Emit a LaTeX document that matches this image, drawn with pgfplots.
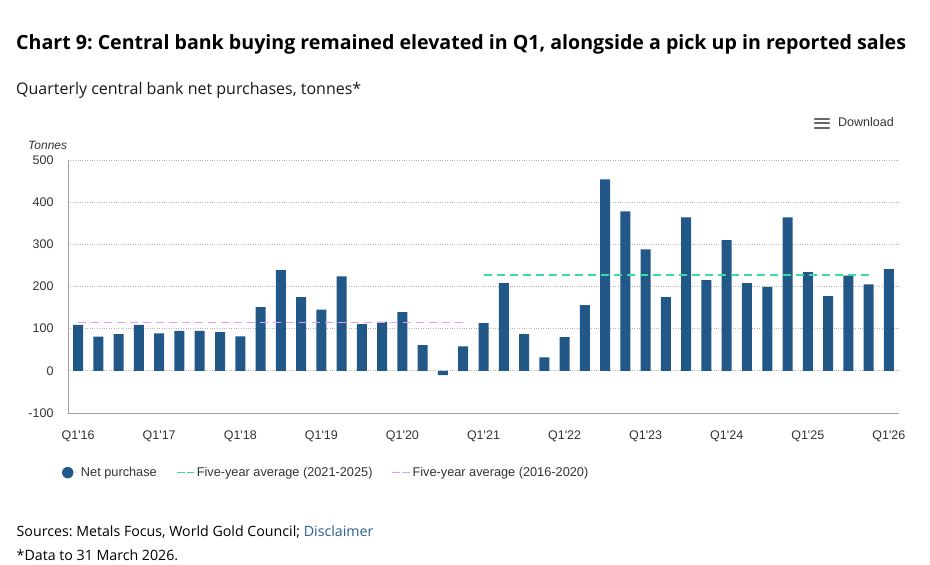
\documentclass[border=0pt]{standalone}
\usepackage{pgfplots}
\pgfplotsset{compat=1.18}
\usepackage{fontspec}
\setmainfont{Open Sans}
\newfontfamily\arial{Liberation Sans}
\definecolor{barblue}{HTML}{215888}
\definecolor{avggreen}{HTML}{3DDBA4}
\definecolor{avgpurple}{HTML}{E19BFA}
\definecolor{ticktext}{HTML}{333333}
\definecolor{axisgrey}{HTML}{A0A0A0}
\definecolor{gridgrey}{HTML}{B5B5B5}
\definecolor{linkblue}{HTML}{2B6193}
\begin{document}
\frenchspacing
\begin{tikzpicture}
\useasboundingbox (0pt,0pt) rectangle (930pt,565pt);
\fill[white] (0pt,0pt) rectangle (930pt,565pt);
% titles
\node[anchor=base west, inner sep=0pt, text=black] at (16pt,515.5pt)
  {\fontsize{19.6}{22}\selectfont\bfseries Chart 9: Central bank buying remained elevated in Q1, alongside a pick up in reported sales};
\node[anchor=base west, inner sep=0pt, text=black!90] at (16pt,470pt)
  {\fontsize{16}{19}\selectfont Quarterly central bank net purchases, tonnes*};
\node[anchor=base west, inner sep=0pt, text=ticktext] at (28pt,415pt)
  {\arial\itshape\fontsize{12}{13}\selectfont Tonnes};
% download button
\foreach \yy in {446,441.7,436.7}{
  \draw[line width=2.4pt, line cap=round, black!60] (815pt,\yy pt) -- (829pt,\yy pt);
}
\node[anchor=base west, inner sep=0pt, text=ticktext] at (838pt,438pt)
  {\arial\fontsize{12.5}{14}\selectfont Download};
% sources
\node[anchor=base west, inner sep=0pt, text=black] at (16.5pt,28.3pt)
  {\fontsize{14.2}{17}\selectfont Sources: Metals Focus, World Gold Council; \textcolor{linkblue}{Disclaimer}};
\node[anchor=base west, inner sep=0pt, text=black] at (16.5pt,4.5pt)
  {\fontsize{14.2}{17}\selectfont *Data to 31 March 2026.};
\begin{axis}[
  at={(68pt,152pt)}, anchor=south west,
  scale only axis, width=831pt, height=253pt,
  xmin=-0.5, xmax=40.5, ymin=-100, ymax=500,
  axis x line*=bottom, axis y line*=left,
  axis line style={axisgrey, line width=0.8pt},
  x axis line style={-}, y axis line style={-},
  xtick={0,4,...,40},
  xticklabels={Q1'16,Q1'17,Q1'18,Q1'19,Q1'20,Q1'21,Q1'22,Q1'23,Q1'24,Q1'25,Q1'26},
  ytick={-100,0,100,200,300,400,500},
  yticklabels={-100,0,100,200,300,400,500},
  tick style={draw=none},
  ymajorgrids, grid style={gridgrey, dotted, line width=0.8pt},
  ticklabel style={font=\arial\fontsize{12.5}{14}\selectfont, text=ticktext},
  yticklabel style={xshift=-11pt},
  xticklabel style={yshift=-14pt},
  legend columns=3,
  legend cell align=left,
  legend style={draw=none, fill=none, at={(-0.011,-0.2357)}, anchor=west,
    font=\arial\fontsize{12.75}{14}\selectfont, text=ticktext,
    /tikz/every even column/.append style={column sep=17pt}},
]
\addplot[ybar, bar width=10pt, fill=barblue, draw=none,
  legend image code/.code={\fill[barblue] (3pt,0pt) circle (5.7pt);\path (-2.7pt,0pt) -- (14.2pt,0pt);}]
coordinates {
(0,109) (1,81) (2,87) (3,109) (4,89) (5,95) (6,95) (7,92) (8,82) (9,151)
(10,239) (11,175) (12,145) (13,224) (14,111) (15,116) (16,139) (17,61) (18,-10) (19,58)
(20,113) (21,208) (22,87) (23,32) (24,80) (25,156) (26,454) (27,378) (28,288) (29,175)
(30,364) (31,215) (32,310) (33,208) (34,199) (35,364) (36,234) (37,177) (38,226) (39,205)
(40,241)};
\addlegendentry{Net purchase}
\addplot[avggreen, line width=1.5pt, dash pattern=on 8pt off 5pt, sharp plot,
  legend image code/.code={\draw[avggreen, line width=1.5pt, dash pattern=on 5.5pt off 4.5pt] (0pt,0pt) -- (15.5pt,0pt);\path (0pt,0pt) -- (17.5pt,0pt);}]
coordinates {(20,227) (39,227)};
\addlegendentry{Five-year average (2021-2025)}
\addplot[avgpurple, line width=1.5pt, dash pattern=on 8pt off 5pt, sharp plot,
  legend image code/.code={\draw[avgpurple, line width=1.5pt, dash pattern=on 5.5pt off 4.5pt] (0pt,0pt) -- (15.5pt,0pt);\path (0pt,0pt) -- (17.5pt,0pt);}]
coordinates {(0,115) (19,115)};
\addlegendentry{Five-year average (2016-2020)}
\end{axis}
\end{tikzpicture}
\end{document}
